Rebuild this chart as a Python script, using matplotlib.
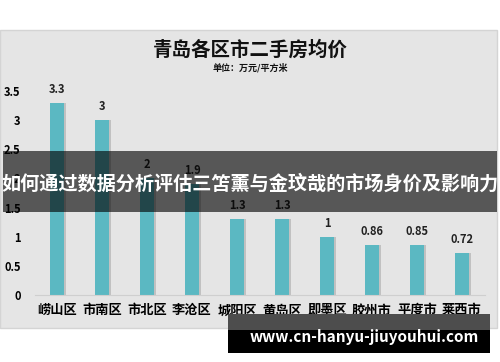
import matplotlib.pyplot as plt
from matplotlib.patches import Rectangle
import numpy as np

plt.rcParams['font.family'] = ['Noto Sans CJK SC', 'DejaVu Sans']

districts = ['崂山区', '市南区', '市北区', '李沧区', '城阳区', '黄岛区', '即墨区', '胶州市', '平度市', '莱西市']
prices = [3.3, 3.0, 2.0, 1.9, 1.3, 1.3, 1.0, 0.86, 0.85, 0.72]
price_labels = ['3.3', '3', '2', '1.9', '1.3', '1.3', '1', '0.86', '0.85', '0.72']
y_ticks = [0, 0.5, 1, 1.5, 2, 2.5, 3, 3.5]
y_tick_labels = ['0', '0.5', '1', '1.5', '2', '2.5', '3', '3.5']

W, H = 500, 362
fig = plt.figure(figsize=(5, 3.62), dpi=100)
fig.patch.set_facecolor('white')

def fx(px):
    return px / W

def fy(py):
    return 1 - py / H

# grey chart panel
fig.patches.append(Rectangle((fx(0), fy(328)), fx(497), (328 - 30) / H,
                             transform=fig.transFigure, facecolor='#e5e5e5',
                             edgecolor='#d4d4d4', lw=1, zorder=-1))

ax = fig.add_axes([fx(34.5), fy(295), 450 / W, 204 / H])
ax.set_zorder(1)
ax.set_facecolor('none')
x = np.arange(len(districts))
bw = 0.31
# soft shadow
ax.bar(x + 0.035, prices, width=bw, color='#8c8c8c', alpha=0.4, zorder=1)
ax.bar(x, prices, width=bw, color='#5bb8c2', zorder=2)
for xi, p, lab in zip(x, prices, price_labels):
    ax.text(xi, p + 0.12, lab, ha='center', va='bottom', fontsize=8,
            fontweight='bold', color='#222222', clip_on=False)

ax.set_xlim(-0.5, 9.5)
ax.set_ylim(0, 3.5)
ax.set_yticks(y_ticks)
ax.set_yticklabels(y_tick_labels, fontsize=8, fontweight='bold')
ax.set_xticks(x)
ax.set_xticklabels(districts, fontsize=9.5, fontweight='bold')
ax.tick_params(length=0, pad=6)
ax.tick_params(axis='y', pad=10)
for s in ['top', 'right', 'left']:
    ax.spines[s].set_visible(False)
ax.spines['bottom'].set_color('#cfcfcf')

fig.text(fx(250), fy(50), '青岛各区市二手房均价', ha='center', va='center',
         fontsize=14, fontweight='bold', color='#111111')
fig.text(fx(250), fy(68), '单位：万元/平方米', ha='center', va='center',
         fontsize=6.5, fontweight='bold', color='#111111')

# dark overlay banner
fig.patches.append(Rectangle((fx(3), fy(212)), fx(494), (212 - 151) / H,
                             transform=fig.transFigure, facecolor='black',
                             alpha=0.62, zorder=5))
fig.text(fx(250), fy(184), '如何通过数据分析评估三笘薰与金玟哉的市场身价及影响力',
         ha='center', va='center', fontsize=13.8, fontweight='bold',
         color='white', zorder=6)

# url box
fig.patches.append(Rectangle((fx(228), fy(330)), fx(262), (330 - 314) / H,
                             transform=fig.transFigure, facecolor='#4d4d4d', zorder=5))
fig.patches.append(Rectangle((fx(228), fy(353)), fx(262), (353 - 330) / H,
                             transform=fig.transFigure, facecolor='black', zorder=5))
fig.text(fx(364), fy(337), 'www.cn-hanyu-jiuyouhui.com', ha='center', va='center',
         fontsize=11, fontweight='bold', color='white', zorder=6)

fig.savefig('out.png', dpi=100)
